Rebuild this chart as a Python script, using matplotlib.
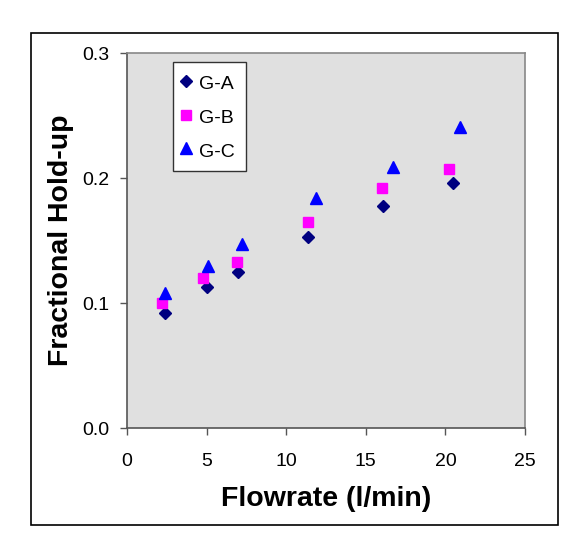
import matplotlib.pyplot as plt
from matplotlib.patches import Rectangle

plt.rcParams['font.family'] = ['Liberation Sans', 'DejaVu Sans']

# Data
ga_x = [2.4, 5.0, 7.0, 11.4, 16.1, 20.5]
ga_y = [0.092, 0.113, 0.125, 0.153, 0.178, 0.196]
gb_x = [2.2, 4.8, 6.9, 11.4, 16.0, 20.2]
gb_y = [0.100, 0.120, 0.133, 0.165, 0.192, 0.207]
gc_x = [2.4, 5.1, 7.2, 11.9, 16.7, 20.9]
gc_y = [0.108, 0.130, 0.147, 0.184, 0.209, 0.241]

fig = plt.figure(figsize=(5.86, 5.5), dpi=100)
ax = fig.add_axes([0.2167, 0.2218, 0.6792, 0.6818])

# outer frame round the whole chart
fig.patches.append(Rectangle((31 / 586, 1 - 525 / 550), (558 - 31) / 586, (525 - 33) / 550,
                             transform=fig.transFigure, fill=False, edgecolor='black', linewidth=1.2))

ax.set_facecolor('#e0e0e0')
ax.plot(ga_x, ga_y, 'D', color='#000080', markersize=6.5, label='G-A', linestyle='none')
ax.plot(gb_x, gb_y, 's', color='#ff00ff', markersize=7.2, label='G-B', linestyle='none')
ax.plot(gc_x, gc_y, '^', color='#0000ff', markersize=9, label='G-C', linestyle='none')

ax.set_xlim(0, 25)
ax.set_ylim(0, 0.3)
ax.set_xticks([0, 5, 10, 15, 20, 25])
ax.set_yticks([0.0, 0.1, 0.2, 0.3])
ax.set_yticklabels(['0.0', '0.1', '0.2', '0.3'])
ax.tick_params(direction='out', length=5, width=1, color='#555555', labelsize=14, pad=8)
ax.tick_params(axis='x', pad=13)

for s in ['top', 'right']:
    ax.spines[s].set_color('#888888')
    ax.spines[s].set_linewidth(1.2)
for s in ['left', 'bottom']:
    ax.spines[s].set_color('#555555')
    ax.spines[s].set_linewidth(1.2)

ax.set_xlabel('Flowrate (l/min)', fontsize=20.5, fontweight='bold', labelpad=11.5)
ax.set_ylabel('Fractional Hold-up', fontsize=20.5, fontweight='bold', labelpad=5.5)

leg = ax.legend(loc='upper left', bbox_to_anchor=(0.1156, 0.976), fontsize=14,
                frameon=True, fancybox=False, edgecolor='#333333', framealpha=1,
                handletextpad=0.6, handlelength=0.2, handleheight=1.2,
                borderpad=0.55, labelspacing=0.68, borderaxespad=0)
leg.get_frame().set_linewidth(1.0)

fig.savefig('out.png', dpi=100)
